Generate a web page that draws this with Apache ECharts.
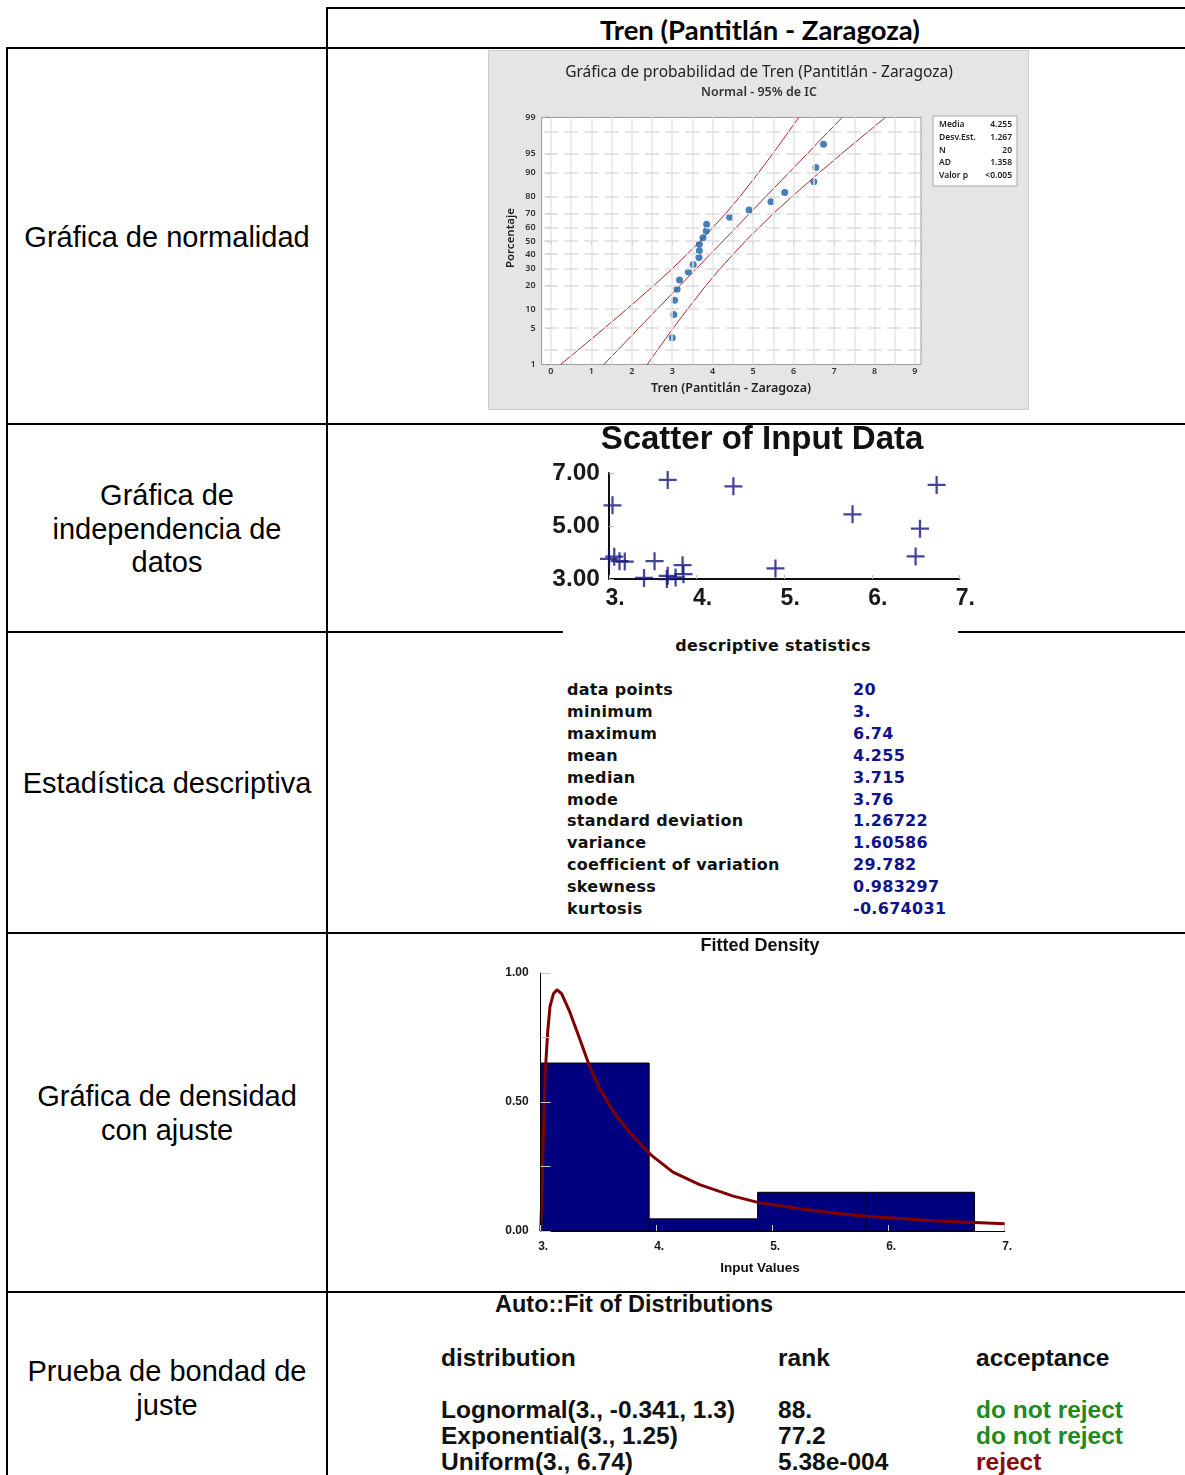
<!DOCTYPE html>
<html>
<head>
<meta charset="utf-8">
<script src="https://cdn.jsdelivr.net/npm/echarts@6/dist/echarts.min.js"></script>
<style>
html, body { margin: 0; padding: 0; background: #fff; }
#page { position: relative; width: 1185px; height: 1475px; overflow: hidden; }
.ln { position: absolute; background: #000; }
.t { position: absolute; white-space: nowrap; line-height: 1; }
.c { transform: translate(-50%, -50%); }
.l { transform: translateY(-50%); }
.lab { font-family: 'Liberation Sans', Arial, sans-serif; font-size: 29px; color: #000; }
.ds { font-family: 'DejaVu Sans', Verdana, sans-serif; font-weight: bold; font-size: 16px; letter-spacing: 0.3px; }
.fit { font-family: 'Liberation Sans Narrow', 'Liberation Sans', sans-serif; font-weight: bold; font-size: 24.5px; color: #111; }
#norm { position: absolute; left: 488px; top: 50px; width: 541px; height: 360px; background: #e5e5e5; border: 1px solid #cdcdcd; box-sizing: border-box; }
#scat { position: absolute; left: 548px; top: 425px; width: 430px; height: 192px; background: #fff; }
#desc { position: absolute; left: 563px; top: 631px; width: 395px; height: 294px; background: #fff; }
#dens { position: absolute; left: 498px; top: 935px; width: 525px; height: 345px; }
</style>
</head>
<body>
<div id="page">
  <!-- table rules -->
  <div class="ln" style="left:326px;top:7px;width:859px;height:2px"></div>
  <div class="ln" style="left:6px;top:47px;width:1179px;height:2px"></div>
  <div class="ln" style="left:6px;top:423px;width:1179px;height:2px"></div>
  <div class="ln" style="left:6px;top:631px;width:1179px;height:2px"></div>
  <div class="ln" style="left:6px;top:932px;width:1179px;height:2px"></div>
  <div class="ln" style="left:6px;top:1291px;width:1179px;height:2px"></div>
  <div class="ln" style="left:6px;top:47px;width:2px;height:1428px"></div>
  <div class="ln" style="left:326px;top:7px;width:2px;height:1468px"></div>

  <div class="t c" style="left:760px;top:30px;font-family:Lato,'Liberation Sans',sans-serif;font-weight:bold;font-size:27.5px">Tren (Pantitlán - Zaragoza)</div>

  <div class="t c lab" style="left:167px;top:237px">Gráfica de normalidad</div>
  <div class="t c lab" style="left:167px;top:495px">Gráfica de</div>
  <div class="t c lab" style="left:167px;top:529px">independencia de</div>
  <div class="t c lab" style="left:167px;top:562px">datos</div>
  <div class="t c lab" style="left:167px;top:783px">Estadística descriptiva</div>
  <div class="t c lab" style="left:167px;top:1096px">Gráfica de densidad</div>
  <div class="t c lab" style="left:167px;top:1130px">con ajuste</div>
  <div class="t c lab" style="left:167px;top:1371px">Prueba de bondad de</div>
  <div class="t c lab" style="left:167px;top:1405px">juste</div>

  <div id="norm"></div>
  <div id="scat"></div>
  <div id="desc"></div>
  <div id="dens"></div>
</div>
<script>
// ---- data ----
// observations in collection order (lag plot uses consecutive pairs)
const obs = [4.42, 6.50, 3.85, 3.18, 3.66, 3.00, 3.76, 3.06, 3.84, 3.52,
             3.67, 3.12, 3.67, 6.74, 6.55, 4.90, 3.40, 3.04, 5.78, 5.44]
const probTicks = [1, 5, 10, 20, 30, 40, 50, 60, 70, 80, 90, 95, 99]
const probGrid = [2, 5, 10, 20, 30, 40, 50, 60, 70, 80, 90, 95, 98]
const xTicksNorm = [0, 1, 2, 3, 4, 5, 6, 7, 8, 9]
const xGridNorm = [0, 0.5, 1, 1.5, 2, 2.5, 3, 3.5, 4, 4.5, 5, 5.5, 6, 6.5, 7, 7.5, 8, 8.5, 9]
// fitted line and 95% CI band (x at given percent)
const bandPct = [1, 5, 10, 20, 30, 50, 70, 80, 90, 95, 99]
const bandLow = [0.24, 1.32, 1.88, 2.54, 3.00, 3.70, 4.33, 4.68, 5.13, 5.49, 6.13]
const bandFit = [1.31, 2.17, 2.63, 3.19, 3.59, 4.26, 4.92, 5.32, 5.88, 6.34, 7.20]
const bandHigh = [2.38, 3.02, 3.38, 3.83, 4.18, 4.81, 5.51, 5.97, 6.63, 7.19, 8.27]
const normStats = [['Media', '4.255'], ['Desv.Est.', '1.267'], ['N', '20'], ['AD', '1.358'], ['Valor p', '<0.005']]

const statNames = ['data points', 'minimum', 'maximum', 'mean', 'median', 'mode',
  'standard deviation', 'variance', 'coefficient of variation', 'skewness', 'kurtosis']
const statValues = ['20', '3.', '6.74', '4.255', '3.715', '3.76', '1.26722', '1.60586',
  '29.782', '0.983297', '-0.674031']

const binEdges = [3.0, 3.935, 4.87, 5.805, 6.74]
const binDensity = [0.651, 0.047, 0.150, 0.150]
const curveX = [3.00, 3.01, 3.02, 3.04, 3.06, 3.08, 3.11, 3.14, 3.18, 3.25, 3.34, 3.42, 3.51, 3.63,
  3.77, 3.95, 4.14, 4.37, 4.66, 4.88, 5.24, 5.50, 5.81, 6.10, 6.38, 6.74, 7.00]
const curveY = [0.00, 0.13, 0.33, 0.62, 0.77, 0.87, 0.92, 0.935, 0.92, 0.85, 0.74, 0.64, 0.55, 0.46,
  0.38, 0.295, 0.228, 0.18, 0.135, 0.11, 0.086, 0.071, 0.057, 0.048, 0.040, 0.033, 0.028]

const fitHead = ['distribution', 'rank', 'acceptance']
const fitDist = ['Lognormal(3., -0.341, 1.3)', 'Exponential(3., 1.25)', 'Uniform(3., 6.74)']
const fitRank = ['88.', '77.2', '5.38e-004']
const fitAccept = ['do not reject', 'do not reject', 'reject']

// inverse normal cdf (Acklam) for the probability axis
function probit (p) {
  const a = [-39.69683028665376, 220.9460984245205, -275.9285104469687, 138.3577518672690, -30.66479806614716, 2.506628277459239]
  const b = [-54.47609879822406, 161.5858368580409, -155.6989798598866, 66.80131188771972, -13.28068155288572]
  const c = [-0.007784894002430293, -0.3223964580411365, -2.400758277161838, -2.549671348283755, 4.374664141464968, 2.938163982698783]
  const d = [0.007784695709041462, 0.3224671290700398, 2.445134137142996, 3.754408661907416]
  const tail = q => (((((c[0] * q + c[1]) * q + c[2]) * q + c[3]) * q + c[4]) * q + c[5]) / ((((d[0] * q + d[1]) * q + d[2]) * q + d[3]) * q + 1)
  if (p < 0.02425) return tail(Math.sqrt(-2 * Math.log(p)))
  if (p > 1 - 0.02425) return -tail(Math.sqrt(-2 * Math.log(1 - p)))
  const q = p - 0.5
  const r = q * q
  return (((((a[0] * r + a[1]) * r + a[2]) * r + a[3]) * r + a[4]) * r + a[5]) * q / (((((b[0] * r + b[1]) * r + b[2]) * r + b[3]) * r + b[4]) * r + 1)
}
const zOf = pct => probit(pct / 100)

// ---- normal probability plot ----
const sorted = obs.slice().sort((a, b) => a - b)
const normPts = sorted.map((v, i) => [v, zOf((i + 1 - 0.3) / (sorted.length + 0.4) * 100)])
const zTicks = probTicks.map(zOf)
const mfont = "'Noto Sans', 'Open Sans', sans-serif"
const redLine = { color: '#a8292b', width: 1 }

const gridMarks = xGridNorm.map(x => ({ xAxis: x, lineStyle: { color: '#e4e4e4', width: 1.5, type: 'solid' } }))
  .concat(probGrid.map(p => ({ yAxis: zOf(p), lineStyle: { color: '#dcdcdc', width: 1.5, type: [14, 6.22], dashOffset: 17.9 } })))

const norm = echarts.init(document.getElementById('norm'))
norm.setOption({
  animation: false,
  grid: { left: 52.6, top: 66.4, width: 379.4, height: 247.1, show: true, backgroundColor: '#fff', borderColor: '#9a9a9a', borderWidth: 1 },
  xAxis: {
    type: 'value', min: -0.23, max: 9.15,
    axisLine: { show: false },
    axisTick: { show: true, customValues: xTicksNorm, length: 4, lineStyle: { color: '#8a8a8a' } },
    axisLabel: { customValues: xTicksNorm, fontSize: 9, color: '#333', fontFamily: mfont, fontWeight: 600, margin: 2 },
    splitLine: { show: false }
  },
  yAxis: {
    type: 'value', min: zOf(1), max: zOf(99),
    axisLine: { show: false },
    axisTick: { show: true, customValues: zTicks, length: 4, lineStyle: { color: '#8a8a8a' } },
    axisLabel: {
      customValues: zTicks, fontSize: 9, color: '#333', fontFamily: mfont, fontWeight: 600, margin: 6,
      formatter: v => {
        let best = 0
        zTicks.forEach((z, i) => { if (Math.abs(z - v) < Math.abs(zTicks[best] - v)) best = i })
        return String(probTicks[best])
      }
    },
    splitLine: { show: false }
  },
  series: [
    {
      type: 'line', data: [], z: 1, silent: true,
      markLine: { silent: true, symbol: ['none', 'none'], label: { show: false }, animation: false, data: gridMarks }
    },
    { type: 'line', data: bandLow.map((x, i) => [x, zOf(bandPct[i])]), showSymbol: false, lineStyle: redLine, z: 3 },
    { type: 'line', data: bandFit.map((x, i) => [x, zOf(bandPct[i])]), showSymbol: false, lineStyle: redLine, z: 3 },
    { type: 'line', data: bandHigh.map((x, i) => [x, zOf(bandPct[i])]), showSymbol: false, lineStyle: redLine, z: 3 },
    { type: 'scatter', data: normPts, symbolSize: 7, itemStyle: { color: '#1a5ea8' }, z: 4 }
  ],
  graphic: [
    { type: 'text', x: 270, y: 22, style: { text: 'Gráfica de probabilidad de Tren (Pantitlán - Zaragoza)', font: '15.5px ' + mfont, fill: '#222', align: 'center', verticalAlign: 'middle' } },
    { type: 'text', x: 270, y: 41, style: { text: 'Normal - 95% de IC', font: '600 12.5px ' + mfont, fill: '#333', align: 'center', verticalAlign: 'middle' } },
    { type: 'text', x: 242, y: 337, style: { text: 'Tren (Pantitlán - Zaragoza)', font: '600 12.5px ' + mfont, fill: '#222', align: 'center', verticalAlign: 'middle' } },
    { type: 'text', x: 22, y: 187, rotation: Math.PI / 2, style: { text: 'Porcentaje', font: '600 11.5px ' + mfont, fill: '#222', align: 'center', verticalAlign: 'middle' } },
    { type: 'rect', shape: { x: 444, y: 65, width: 84, height: 70 }, style: { fill: '#fff', stroke: '#a8a8a8', lineWidth: 1 } }
  ].concat(normStats.flatMap((r, i) => [
    { type: 'text', x: 450, y: 74 + i * 12.6, style: { text: r[0], font: '600 8.5px ' + mfont, fill: '#222', verticalAlign: 'middle' } },
    { type: 'text', x: 523, y: 74 + i * 12.6, style: { text: r[1], font: '600 8.5px ' + mfont, fill: '#222', align: 'right', verticalAlign: 'middle' } }
  ]))
})

// ---- scatter of input data (lag plot) ----
const lagPairs = obs.slice(0, -1).map((v, i) => [v, obs[i + 1]])
const plus = 'path://M7,0h2v7h7v2h-7v7h-2v-7h-7v-2h7z'
const sfont = "'Liberation Sans', Arial, sans-serif"
const scat = echarts.init(document.getElementById('scat'))
scat.setOption({
  animation: false,
  grid: { left: 61, top: 48, width: 352, height: 106 },
  xAxis: {
    type: 'value', min: 3, max: 7, interval: 1,
    axisLine: { lineStyle: { color: '#111', width: 2 } },
    axisTick: { show: true, inside: true, length: 4, lineStyle: { color: '#bbb' } },
    axisLabel: { formatter: v => v + '.', fontFamily: sfont, fontSize: 23, fontWeight: 'bold', color: '#1a1a1a', margin: 8, padding: [0, 0, 0, 12] },
    splitLine: { show: false }
  },
  yAxis: {
    type: 'value', min: 3, max: 7, interval: 2,
    axisLine: { show: true, lineStyle: { color: '#111', width: 2 } },
    axisTick: { show: true, inside: true, length: 5, lineStyle: { color: '#bbb' } },
    axisLabel: { formatter: v => v.toFixed(2), fontFamily: sfont, fontSize: 24.5, fontWeight: 'bold', color: '#1a1a1a', margin: 9 },
    splitLine: { show: false }
  },
  series: [{ type: 'scatter', data: lagPairs, symbol: plus, symbolSize: 18, itemStyle: { color: '#14147e' } }],
  graphic: [
    { type: 'text', x: 214, y: 15, style: { text: 'Scatter of Input Data', font: 'bold 33px ' + sfont, fill: '#111', align: 'center', verticalAlign: 'middle' } }
  ]
})

// ---- descriptive statistics (text panel) ----
const desc = document.getElementById('desc')
const addText = (parent, text, x, y, cls, style) => {
  const el = document.createElement('div')
  el.className = 't ' + cls
  el.textContent = text
  el.style.left = x + 'px'
  el.style.top = y + 'px'
  Object.assign(el.style, style || {})
  parent.appendChild(el)
}
addText(desc, 'descriptive statistics', 210, 15, 'ds c', { color: '#111' })
statNames.forEach((s, i) => {
  addText(desc, s, 4, 59 + i * 21.9, 'ds l', { color: '#111' })
  addText(desc, statValues[i], 290, 59 + i * 21.9, 'ds l', { color: '#12128a' })
})

// ---- fitted density ----
const dfont = "'Liberation Sans', Arial, sans-serif"
const dens = echarts.init(document.getElementById('dens'))
dens.setOption({
  animation: false,
  grid: { left: 42.7, top: 38, width: 464, height: 258 },
  xAxis: {
    type: 'value', min: 3, max: 7, interval: 1, z: 10,
    axisLine: { lineStyle: { color: '#000', width: 1 } },
    axisTick: { show: true, inside: true, length: 6, lineStyle: { color: '#c8c8c8' } },
    axisLabel: { formatter: v => v + '.', fontFamily: dfont, fontSize: 12, fontWeight: 'bold', color: '#1a1a1a', margin: 10, padding: [0, 0, 0, 5] },
    splitLine: { show: false }
  },
  yAxis: {
    type: 'value', min: 0, max: 1, interval: 0.25, z: 10,
    axisLine: { show: true, lineStyle: { color: '#000', width: 1 } },
    axisTick: { show: true, inside: true, length: 10, lineStyle: { color: '#c8c8c8' } },
    axisLabel: { formatter: v => (v === 0 || v === 0.5 || v === 1) ? v.toFixed(2) : '', fontFamily: dfont, fontSize: 12, fontWeight: 'bold', color: '#1a1a1a', margin: 12 },
    splitLine: { show: false }
  },
  series: [
    {
      type: 'custom',
      data: binDensity.map((h, i) => [binEdges[i], binEdges[i + 1], h]),
      encode: { x: [0, 1], y: 2 },
      renderItem: (params, api) => {
        const p0 = api.coord([api.value(0), api.value(2)])
        const p1 = api.coord([api.value(1), 0])
        return { type: 'rect', shape: { x: p0[0], y: p0[1], width: p1[0] - p0[0], height: p1[1] - p0[1] }, style: { fill: '#00007f', stroke: '#000', lineWidth: 1 } }
      },
      z: 2
    },
    { type: 'line', data: curveX.map((x, i) => [x, curveY[i]]), showSymbol: false, lineStyle: { color: '#800000', width: 3 }, z: 5 }
  ],
  graphic: [
    { type: 'text', x: 262, y: 11, style: { text: 'Fitted Density', font: 'bold 18px ' + dfont, fill: '#111', align: 'center', verticalAlign: 'middle' } },
    { type: 'text', x: 262, y: 333, style: { text: 'Input Values', font: 'bold 13.5px ' + dfont, fill: '#111', align: 'center', verticalAlign: 'middle' } }
  ]
})

// ---- fit of distributions (text panel) ----
const page = document.getElementById('page')
addText(page, 'Auto::Fit of Distributions', 495, 1305, 'fit l', { fontSize: '23.5px' })
const cols = [441, 778, 976]
fitHead.forEach((h, j) => addText(page, h, cols[j], 1358, 'fit l'))
fitDist.forEach((d, i) => {
  const y = 1410 + i * 26
  addText(page, d, cols[0], y, 'fit l')
  addText(page, fitRank[i], cols[1], y, 'fit l')
  addText(page, fitAccept[i], cols[2], y, 'fit l', { color: fitAccept[i] === 'reject' ? '#8b0a0a' : '#1f8a1f' })
})
</script>
</body>
</html>
